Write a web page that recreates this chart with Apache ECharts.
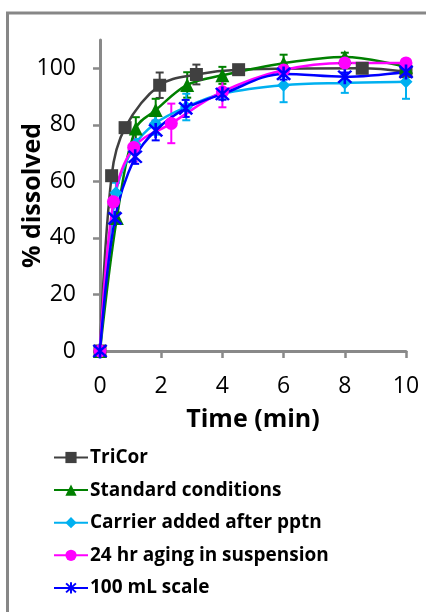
<!DOCTYPE html>
<html>
<head>
<meta charset="utf-8">
<script src="https://cdn.jsdelivr.net/npm/echarts@6/dist/echarts.min.js"></script>
<style>
html,body{margin:0;padding:0;background:#fff;}
#c{width:426px;height:612px;}
</style>
</head>
<body>
<div id="c"></div>
<script>
// ---- data ----
const seriesNames = ['TriCor', 'Standard conditions', 'Carrier added after pptn', '24 hr aging in suspension', '100 mL scale'];

const triX = [0, 0.38, 0.82, 1.95, 3.15, 4.53, 8.57, 10];
const triY = [0, 62, 79, 94, 97.8, 99.5, 100, 98.8];
const triE = [0, 0, 1.5, 4.5, 3.5, 1.5, 1, 0];

const stdX = [0, 0.55, 1.17, 1.82, 2.85, 4, 6, 8, 10];
const stdY = [0, 47, 78.7, 85.2, 94.1, 97.5, 101.8, 104, 100.5];
const stdE = [0, 2, 4, 4, 4.5, 3, 3, 1.5, 1];

const carX = [0, 0.52, 1.15, 1.81, 2.82, 4, 6, 8, 10];
const carY = [0, 56, 73, 80.5, 86.3, 91, 94, 94.8, 95.2];
const carE = [0, 3.5, 2, 4, 4.7, 2, 6, 3.5, 6];

const agX = [0, 0.44, 1.1, 2.33, 4, 6, 8, 10];
const agY = [0, 52.8, 72, 80.5, 91.7, 99.4, 101.9, 101.9];
const agE = [0, 2, 5, 7, 5.5, 1.5, 1, 1];

const scX = [0, 0.49, 1.15, 1.82, 2.8, 4, 6, 8, 10];
const scY = [0, 46.9, 68.7, 78, 85.8, 90.9, 98, 97, 98.7];
const scE = [0, 1.5, 2.5, 3.5, 3, 2, 2, 1.5, 1.5];

const yTicks = [0, 20, 40, 60, 80, 100];
const xTicks = [0, 2, 4, 6, 8, 10];

// ---- styles ----
const colors = ['#404040', '#008000', '#00b0f0', '#ff00ff', '#0000ff'];
const asterisk = 'path://M4.2 0 L5.8 0 L5.8 10 L4.2 10 Z M1.566 0.434 L9.566 8.434 L8.434 9.566 L0.434 1.566 Z M9.566 1.566 L1.566 9.566 L0.434 8.434 L8.434 0.434 Z';
const symbols = ['rect', 'triangle', 'diamond', 'circle', asterisk];
const symSizes = [13, 14, 13, 13, 15];

const sets = [
  [triX, triY, triE],
  [stdX, stdY, stdE],
  [carX, carY, carE],
  [agX, agY, agE],
  [scX, scY, scE]
];

const font = '"Open Sans", "Noto Sans", sans-serif';

const series = [];
sets.forEach(function (s, i) {
  const xs = s[0], ys = s[1], es = s[2];
  series.push({
    name: seriesNames[i] + ' err',
    type: 'custom',
    z: 2,
    data: xs.map(function (x, k) { return [x, ys[k], es[k]]; }),
    renderItem: function (params, api) {
      const x = api.value(0), y = api.value(1), e = api.value(2);
      if (!e) return null;
      const top = api.coord([x, y + e]);
      const bot = api.coord([x, y - e]);
      const w = 4;
      const st = { stroke: colors[i], lineWidth: 2 };
      return {
        type: 'group',
        children: [
          { type: 'line', shape: { x1: top[0], y1: top[1], x2: bot[0], y2: bot[1] }, style: st },
          { type: 'line', shape: { x1: top[0] - w, y1: top[1], x2: top[0] + w, y2: top[1] }, style: st },
          { type: 'line', shape: { x1: bot[0] - w, y1: bot[1], x2: bot[0] + w, y2: bot[1] }, style: st }
        ]
      };
    },
    silent: true
  });
});
sets.forEach(function (s, i) {
  const xs = s[0], ys = s[1];
  series.push({
    name: seriesNames[i],
    type: 'line',
    z: 3,
    smooth: 0.35,
    data: xs.map(function (x, k) { return [x, ys[k]]; }),
    symbol: symbols[i],
    symbolSize: symSizes[i],
    showAllSymbol: true,
    lineStyle: { color: colors[i], width: 2.5 },
    itemStyle: { color: colors[i] },
    animation: false
  });
});

const chart = echarts.init(document.getElementById('c'), null, { renderer: 'canvas' });
chart.setOption({
  animation: false,
  backgroundColor: '#fff',
  graphic: [{
    type: 'polyline',
    shape: { points: [[7.5, 612], [7.5, 13], [426, 13]] },
    style: { stroke: '#878787', lineWidth: 3, fill: null },
    z: 0
  }],
  grid: { left: 100, right: 20, top: 40, bottom: 261, containLabel: false, outerBoundsMode: 'none' },
  xAxis: {
    type: 'value',
    min: 0, max: 10, interval: 2,
    name: 'Time (min)',
    nameLocation: 'middle',
    nameGap: 56,
    nameMoveOverlap: false,
    nameTextStyle: { fontFamily: font, fontWeight: 'bold', fontSize: 25, color: '#000' },
    axisLine: { show: true, onZero: false, lineStyle: { color: '#898989', width: 3 } },
    axisTick: { show: true, inside: false, length: 7, customValues: xTicks, lineStyle: { color: '#898989', width: 2.5 } },
    axisLabel: { fontFamily: font, fontSize: 23, color: '#000', margin: 24, customValues: xTicks },
    splitLine: { show: false }
  },
  yAxis: {
    type: 'value',
    min: 0, max: 110, interval: 20,
    name: '% dissolved',
    nameLocation: 'middle',
    nameGap: 55,
    nameMoveOverlap: false,
    nameTextStyle: { fontFamily: font, fontWeight: 'bold', fontSize: 25, color: '#000' },
    axisLine: { show: true, lineStyle: { color: '#898989', width: 3 } },
    axisTick: { show: true, inside: false, length: 7, customValues: yTicks, lineStyle: { color: '#898989', width: 2.5 } },
    axisLabel: { fontFamily: font, fontSize: 23, color: '#000', margin: 24, customValues: yTicks },
    splitLine: { show: false }
  },
  legend: {
    data: seriesNames,
    orient: 'vertical',
    left: 48,
    top: 443,
    itemWidth: 34,
    itemHeight: 14,
    itemGap: 13.6,
    textStyle: { fontFamily: font, fontWeight: 'bold', fontSize: 19, color: '#000', padding: [0, 0, 0, -3] },
    selectedMode: false
  },
  series: series
});
</script>
</body>
</html>
